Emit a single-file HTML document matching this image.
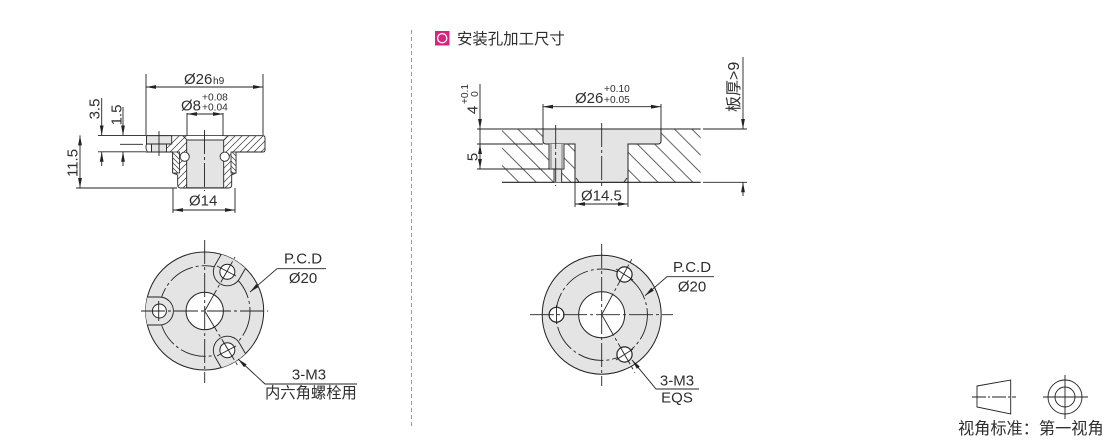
<!DOCTYPE html>
<html>
<head>
<meta charset="utf-8">
<style>
html,body{margin:0;padding:0;background:#fff;}
svg{display:block;}
text{font-family:"Liberation Sans","Noto Sans CJK SC",sans-serif;fill:#2e2e2e;font-size:15px;}
.l{stroke:#222;stroke-width:.9;fill:none;}
.d{stroke:#222;stroke-width:.9;fill:none;marker-start:url(#a);marker-end:url(#a);}
.e{stroke:#222;stroke-width:.9;fill:none;marker-end:url(#a);}
.c{stroke:#222;stroke-width:.9;fill:none;stroke-dasharray:24 3 3 3;}
.s{font-size:10.2px;}
</style>
</head>
<body>
<svg width="1110" height="440" viewBox="0 0 1110 440" xmlns="http://www.w3.org/2000/svg">
<defs>
<marker id="a" markerUnits="userSpaceOnUse" markerWidth="10" markerHeight="5" viewBox="0 0 10 5" refX="10" refY="2.5" orient="auto-start-reverse"><path d="M0,.6L10,2.5L0,4.4z" fill="#222"/></marker>
<pattern id="h1" patternUnits="userSpaceOnUse" width="7" height="7"><path d="M-1,8L8,-1M-1,1L1,-1M6,8L8,6" stroke="#333" stroke-width=".7"/></pattern>
<pattern id="h2" patternUnits="userSpaceOnUse" width="5" height="5"><path d="M-1,-1L6,6M-1,4L1,6M4,-1L6,1" stroke="#333" stroke-width=".7"/></pattern>
<pattern id="h3" patternUnits="userSpaceOnUse" width="17.4" height="17.4" patternTransform="translate(6,0)"><path d="M-1,-1L18.4,18.4M-1,16.4L1,18.4M16.4,-1L18.4,1" stroke="#444" stroke-width=".8"/></pattern>
</defs>

<!-- divider -->
<line x1="411.5" y1="30" x2="411.5" y2="428" stroke="#999" stroke-width="1" stroke-dasharray="4 3"/>

<!-- title -->
<rect x="435" y="31" width="14.5" height="14.5" fill="#d6247f"/>
<circle cx="442.2" cy="38.2" r="4.6" fill="none" stroke="#fff" stroke-width="1.3"/>
<text x="457" y="44" style="font-size:15.4px">安装孔加工尺寸</text>

<!-- LEFT SECTION -->
<path d="M171.7,135.7H263Q265,135.7 265,138V150Q265,152 263,152H236V173L231.7,175V185Q231.7,188 228,188H181Q177.7,188 177.7,185V175L172.7,173V152H146.7Q150,148 146.7,144V135.7H171.7Z" fill="url(#h1)" stroke="#222" stroke-width=".9"/>
<rect x="172.7" y="152" width="6.8" height="21" fill="#fff" stroke="#222" stroke-width=".8"/>
<rect x="172.7" y="152" width="6.8" height="21" fill="url(#h2)"/>
<rect x="231" y="152" width="5" height="21" fill="#fff" stroke="#222" stroke-width=".8"/>
<rect x="231" y="152" width="5" height="21" fill="url(#h2)"/>
<path d="M186.7,136H224L224,140H186.7Z" fill="#fff"/>
<path d="M183,135.7L187,140M228,135.7L224,140" class="l"/>
<rect x="186.7" y="140" width="37" height="47.8" fill="#e4e4e4" stroke="#222" stroke-width=".9"/>
<path d="M146.5,135.7H171.7V144H146.5Z" fill="#e4e4e4" stroke="#222" stroke-width=".9"/>
<path d="M151.5,144H166.5V152H151.5Z" fill="#e4e4e4" stroke="#222" stroke-width=".9"/>
<path d="M146.5,144Q145,148 147.5,152H151.5V144Z" fill="#fff" stroke="#222" stroke-width=".9"/>
<circle cx="184.7" cy="156.7" r="4.6" fill="#fff" stroke="#222" stroke-width=".9"/>
<circle cx="224.7" cy="156.7" r="4.6" fill="#fff" stroke="#222" stroke-width=".9"/>
<line x1="204.5" y1="130" x2="204.5" y2="191" class="c"/>
<line x1="159" y1="131" x2="159" y2="156" class="l"/>
<line x1="120" y1="144.3" x2="143" y2="144.3" class="c"/>

<path d="M146,74V135M263,74V135M187,113V136M223,113V136M173,188V213M235,188V213" class="l"/>
<path d="M98,135.4H146M98,151.8H146M76,188H177" class="l"/>
<line x1="146" y1="87" x2="263" y2="87" class="d"/>
<line x1="187" y1="114" x2="223" y2="114" class="d"/>
<line x1="173" y1="210" x2="235" y2="210" class="d"/>
<line x1="80" y1="135.4" x2="80" y2="188" class="d"/>
<line x1="101.7" y1="98" x2="101.7" y2="135.4" class="e"/>
<line x1="101.7" y1="166" x2="101.7" y2="151.8" class="e"/>
<line x1="123" y1="107" x2="123" y2="135.4" class="e"/>
<line x1="123" y1="166" x2="123" y2="151.8" class="e"/>

<text x="184" y="84">Ø26</text><text x="213" y="84" class="s">h9</text>
<text x="181" y="110.5">Ø8</text>
<text x="202" y="100.5" class="s">+0.08</text>
<text x="202" y="110.5" class="s">+0.04</text>
<text x="189" y="205.5">Ø14</text>
<text transform="translate(99.5,109) rotate(-90)" text-anchor="middle">3.5</text>
<text transform="translate(121.5,115) rotate(-90)" text-anchor="middle">1.5</text>
<text transform="translate(77.5,163) rotate(-90)" text-anchor="middle">11.5</text>

<!-- LEFT DISC -->
<circle cx="204.7" cy="311" r="59" fill="#e4e4e4" stroke="#222" stroke-width="1"/>
<circle cx="204.7" cy="311" r="45.3" class="l" stroke-dasharray="26 3 3 3"/>
<g>
<path d="M147.4,297H159.4A14,14 0 0 1 159.4,325H147.4A58,58 0 0 1 147.4,297Z" fill="#e4e4e4"/>
<path d="M147.4,297H159.4A14,14 0 0 1 159.4,325H147.4" class="l"/>
<circle cx="159.4" cy="311" r="7" fill="#fff" stroke="#222" stroke-width="1"/>
</g>
<g transform="rotate(120 204.7 311)">
<path d="M147.4,297H159.4A14,14 0 0 1 159.4,325H147.4A58,58 0 0 1 147.4,297Z" fill="#e4e4e4"/>
<path d="M147.4,297H159.4A14,14 0 0 1 159.4,325H147.4" class="l"/>
<circle cx="159.4" cy="311" r="7.5" fill="#fff" stroke="#222" stroke-width="1"/>
</g>
<g transform="rotate(240 204.7 311)">
<path d="M147.4,297H159.4A14,14 0 0 1 159.4,325H147.4A58,58 0 0 1 147.4,297Z" fill="#e4e4e4"/>
<path d="M147.4,297H159.4A14,14 0 0 1 159.4,325H147.4" class="l"/>
<circle cx="159.4" cy="311" r="7.5" fill="#fff" stroke="#222" stroke-width="1"/>
</g>
<circle cx="204.7" cy="311" r="18.7" fill="#fff" stroke="#222" stroke-width="1"/>
<line x1="204.7" y1="240" x2="204.7" y2="383" class="c"/>
<line x1="141" y1="311" x2="268" y2="311" class="c"/>
<line x1="204.7" y1="311" x2="235" y2="257" class="c"/>
<line x1="204.7" y1="311" x2="238" y2="366" class="c"/>
<line x1="217" y1="266" x2="236" y2="276" class="l"/>
<line x1="217" y1="356" x2="236" y2="346" class="l"/>
<line x1="158.7" y1="301" x2="158.7" y2="321" class="l"/>
<path d="M326,268.7H277L250,292" class="e"/>
<path d="M357,384H265L238,359" class="e"/>
<text x="303" y="263.5" text-anchor="middle">P.C.D</text>
<text x="303" y="283" text-anchor="middle">Ø20</text>
<text x="309" y="379.5" text-anchor="middle">3-M3</text>
<text x="265" y="398" style="font-size:15.3px">内六角螺栓用</text>

<!-- RIGHT SECTION -->
<rect x="502" y="129" width="198.7" height="53.3" fill="url(#h3)"/>
<path d="M502,129H700.7M502,182.3H700.7" class="l" style="stroke-width:1.1"/>
<path d="M543,129H661V141Q661,144 658,144H628V182.3H575V144H546Q543,144 543,141Z" fill="#e4e4e4" stroke="#222" stroke-width="1"/>
<line x1="576" y1="178" x2="579" y2="182" class="l"/>
<line x1="627" y1="178" x2="624" y2="182" class="l"/>
<path d="M549,144H564V169H561.7V182.3H554V169H549Z" fill="#e4e4e4"/>
<path d="M549,144V169H564V144M554,169V182.3M561.7,169V182.3" class="l"/>
<line x1="551" y1="144" x2="551" y2="169" stroke="#888" stroke-width="1.2"/>
<line x1="562" y1="144" x2="562" y2="169" stroke="#888" stroke-width="1.2"/>
<line x1="555.7" y1="125" x2="555.7" y2="186" class="c"/>
<line x1="601.7" y1="123" x2="601.7" y2="187" class="c"/>

<path d="M543,104V129M661,104V129M575,182V207M628,182V207" class="l"/>
<path d="M477,129H502M477,144H543M477,169H549M703,129H747M703,182.3H747" class="l"/>
<line x1="543" y1="106.7" x2="661" y2="106.7" class="d"/>
<line x1="575" y1="204" x2="628" y2="204" class="d"/>
<line x1="480" y1="84" x2="480" y2="129" class="e"/>
<line x1="480" y1="144" x2="480" y2="169" class="d"/>
<line x1="480" y1="129" x2="480" y2="144" class="l"/>
<line x1="743" y1="57" x2="743" y2="129" class="e"/>
<line x1="743" y1="196" x2="743" y2="182.3" class="e"/>

<text x="575" y="103">Ø26</text>
<text x="604" y="92" class="s">+0.10</text>
<text x="604" y="103" class="s">+0.05</text>
<text x="581" y="200.5">Ø14.5</text>
<text transform="translate(477.5,157) rotate(-90)" text-anchor="middle">5</text>
<text transform="translate(477.5,110) rotate(-90)" text-anchor="middle">4</text>
<text transform="translate(468,94) rotate(-90)" text-anchor="middle" class="s">+0.1</text>
<text transform="translate(478,94) rotate(-90)" text-anchor="middle" class="s">0</text>
<text transform="translate(739,112) rotate(-90)" style="font-size:16px">板厚&gt;9</text>

<!-- RIGHT DISC -->
<circle cx="601.7" cy="314.7" r="59.5" fill="#e4e4e4" stroke="#222" stroke-width="1"/>
<circle cx="601.7" cy="314.7" r="45.7" class="l" stroke-dasharray="26 3 3 3"/>
<circle cx="601.7" cy="314.7" r="23" fill="#fff" stroke="#222" stroke-width="1"/>
<circle cx="556.5" cy="314.7" r="7.4" fill="#fff" stroke="#222" stroke-width="1.2"/>
<circle cx="624.5" cy="274.5" r="7.6" fill="#fff" stroke="#222" stroke-width="1.2"/>
<circle cx="624.5" cy="354.5" r="7.6" fill="#fff" stroke="#222" stroke-width="1.2"/>
<line x1="601.7" y1="244" x2="601.7" y2="386" class="c"/>
<line x1="530" y1="314.7" x2="673" y2="314.7" class="c"/>
<line x1="601.7" y1="314.7" x2="633" y2="257" class="c"/>
<line x1="601.7" y1="314.7" x2="635" y2="372.7" class="c"/>
<line x1="616" y1="269" x2="633" y2="280" class="l"/>
<line x1="616" y1="360" x2="633" y2="349" class="l"/>
<line x1="556.5" y1="305" x2="556.5" y2="324" class="l"/>
<path d="M714,276.7H667L645,295.7" class="e"/>
<path d="M699,389H656L632,360" class="e"/>
<text x="692" y="271.8" text-anchor="middle">P.C.D</text>
<text x="692" y="291.3" text-anchor="middle">Ø20</text>
<text x="677" y="385.3" text-anchor="middle">3-M3</text>
<text x="677" y="402.3" text-anchor="middle">EQS</text>

<!-- PROJECTION SYMBOL -->
<path d="M977,386L1010.7,380V414L977,407Z" class="l"/>
<line x1="972" y1="397" x2="1016" y2="397" class="l" stroke-dasharray="14 2 2 2"/>
<circle cx="1065" cy="397" r="17" class="l"/>
<circle cx="1065" cy="397" r="10" class="l"/>
<path d="M1065,375V419M1043,397H1088" class="l"/>
<text x="958" y="434" style="font-size:16.2px">视角标准：第一视角</text>
</svg>
</body>
</html>
